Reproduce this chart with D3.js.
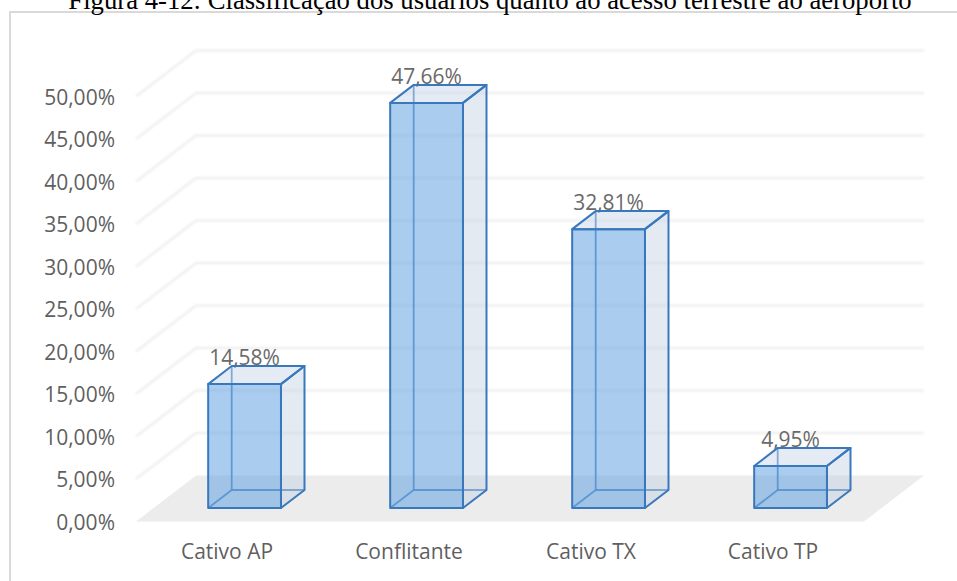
<!DOCTYPE html>
<html>
<head>
<meta charset="utf-8">
<script src="https://cdn.jsdelivr.net/npm/d3@7"></script>
<style>
  html, body { margin: 0; padding: 0; background: #ffffff; }
  svg { display: block; }
</style>
</head>
<body>
<div id="chart"></div>
<script>
// Data
const categories = ["Cativo AP", "Conflitante", "Cativo TX", "Cativo TP"];
const values = [14.58, 47.66, 32.81, 4.95];
const yTicks = [0, 5, 10, 15, 20, 25, 30, 35, 40, 45, 50];
const titleText = "Figura 4-12: Classificação dos usuários quanto ao acesso terrestre ao aeroporto";

const W = 957, H = 581;
const DX = 60, DY = 46;         // oblique offset of the back of the plot box
const ZF = 0.293, ZB = 0.685;   // depth of the front / back faces of each column

const ptBR = d3.formatLocale({ decimal: ",", thousands: ".", grouping: [3], currency: ["R$", ""] });
const fmt = v => ptBR.format(".2f")(v) + "%";

const svg = d3.select("#chart").append("svg")
  .attr("width", W).attr("height", H);

svg.append("rect").attr("width", W).attr("height", H).attr("fill", "#ffffff");

const defs = svg.append("defs");
defs.append("filter").attr("id", "soft")
  .append("feGaussianBlur").attr("stdDeviation", 1);

// Chart frame
svg.append("rect")
  .attr("x", 10).attr("y", 12)
  .attr("width", W + 20).attr("height", H + 20)
  .attr("fill", "none").attr("stroke", "#d9d9d9").attr("stroke-width", 2);

// Scales
const x = d3.scaleBand().domain(categories).range([136, 864]);
const y = d3.scaleLinear().domain([0, 50]).range([521.5, 96.5]);
const P = (px, v, z) => [px + z * DX, y(v) - z * DY];
const x0 = x.range()[0], x1 = x.range()[1];
const line = d3.line();

// Floor
svg.append("path")
  .attr("d", line([P(x0, 0, 0), P(x1, 0, 0), P(x1, 0, 1), P(x0, 0, 1)]) + "Z")
  .attr("fill", "#ececec");

// Gridlines on side and back walls
svg.append("g").attr("filter", "url(#soft)")
  .selectAll("path").data(yTicks.filter(v => v > 0)).join("path")
  .attr("d", v => line([P(x0, v, 0), P(x0, v, 1), P(x1, v, 1)]))
  .attr("fill", "none").attr("stroke", "#efefef").attr("stroke-width", 2.4);

// Y axis labels
const yAxis = d3.axisLeft(y).tickValues(yTicks).tickFormat(fmt).tickSize(0).tickPadding(0);
const gy = svg.append("g").attr("transform", "translate(115,1)").call(yAxis);
gy.select(".domain").remove();
gy.selectAll("text")
  .attr("font-family", "'Open Sans', sans-serif")
  .attr("font-size", 21).attr("fill", "#5f5f5f");

// Category labels
svg.append("g").selectAll("text").data(categories).join("text")
  .attr("x", d => x(d) + x.bandwidth() / 2)
  .attr("y", 559)
  .attr("text-anchor", "middle")
  .attr("font-family", "'Open Sans', sans-serif")
  .attr("font-size", 21).attr("fill", "#5f5f5f")
  .text(d => d);

const bars = categories.map((c, i) => {
  const cx = x(c) + x.bandwidth() / 2;
  const w = x.bandwidth() * 0.4;
  return { c, v: values[i], xl: cx - w / 2, xr: cx + w / 2, cx };
});

// Value labels (drawn first so the column tops sit over them)
svg.append("g").selectAll("text").data(bars).join("text")
  .attr("x", d => d.cx + ZF * DX)
  .attr("y", d => y(d.v) - ZF * DY - 19)
  .attr("text-anchor", "middle")
  .attr("font-family", "'Open Sans', sans-serif")
  .attr("font-size", 21).attr("fill", "#6a6a6a")
  .text(d => fmt(d.v));

// 3D columns
const stroke = "#3a78bd";
bars.forEach(d => {
  const g = svg.append("g");
  const fbl = P(d.xl, 0, ZF), fbr = P(d.xr, 0, ZF), ftl = P(d.xl, d.v, ZF), ftr = P(d.xr, d.v, ZF);
  const bbl = P(d.xl, 0, ZB), bbr = P(d.xr, 0, ZB), btl = P(d.xl, d.v, ZB), btr = P(d.xr, d.v, ZB);

  // hidden edges seen through the transparent faces
  [[bbl, bbr], [bbl, btl], [fbl, bbl]].forEach(seg => {
    g.append("path").attr("d", line(seg))
      .attr("stroke", stroke).attr("stroke-width", 1.8).attr("stroke-opacity", 0.85).attr("fill", "none");
  });

  // faces
  g.append("path").attr("d", line([fbr, bbr, btr, ftr]) + "Z")
    .attr("fill", "rgba(190,205,224,0.42)");
  g.append("path").attr("d", line([ftl, ftr, btr, btl]) + "Z")
    .attr("fill", "rgba(190,208,230,0.42)");
  g.append("path").attr("d", line([fbl, fbr, ftr, ftl]) + "Z")
    .attr("fill", "rgba(100,164,226,0.55)");

  // visible edges
  g.append("path").attr("d", line([fbr, bbr, btr, ftr]) + "Z")
    .attr("fill", "none").attr("stroke", stroke).attr("stroke-width", 2).attr("stroke-linejoin", "round");
  g.append("path").attr("d", line([ftl, ftr, btr, btl]) + "Z")
    .attr("fill", "none").attr("stroke", stroke).attr("stroke-width", 2).attr("stroke-linejoin", "round");
  g.append("path").attr("d", line([fbl, fbr, ftr, ftl]) + "Z")
    .attr("fill", "none").attr("stroke", stroke).attr("stroke-width", 2).attr("stroke-linejoin", "round");
});

// Caption running off the top edge of the page
svg.append("text")
  .attr("x", 490).attr("y", 8.5)
  .attr("text-anchor", "middle")
  .attr("font-family", "'Liberation Serif', 'Times New Roman', serif")
  .attr("font-size", 26.7).attr("fill", "#000000")
  .text(titleText);
</script>
</body>
</html>
